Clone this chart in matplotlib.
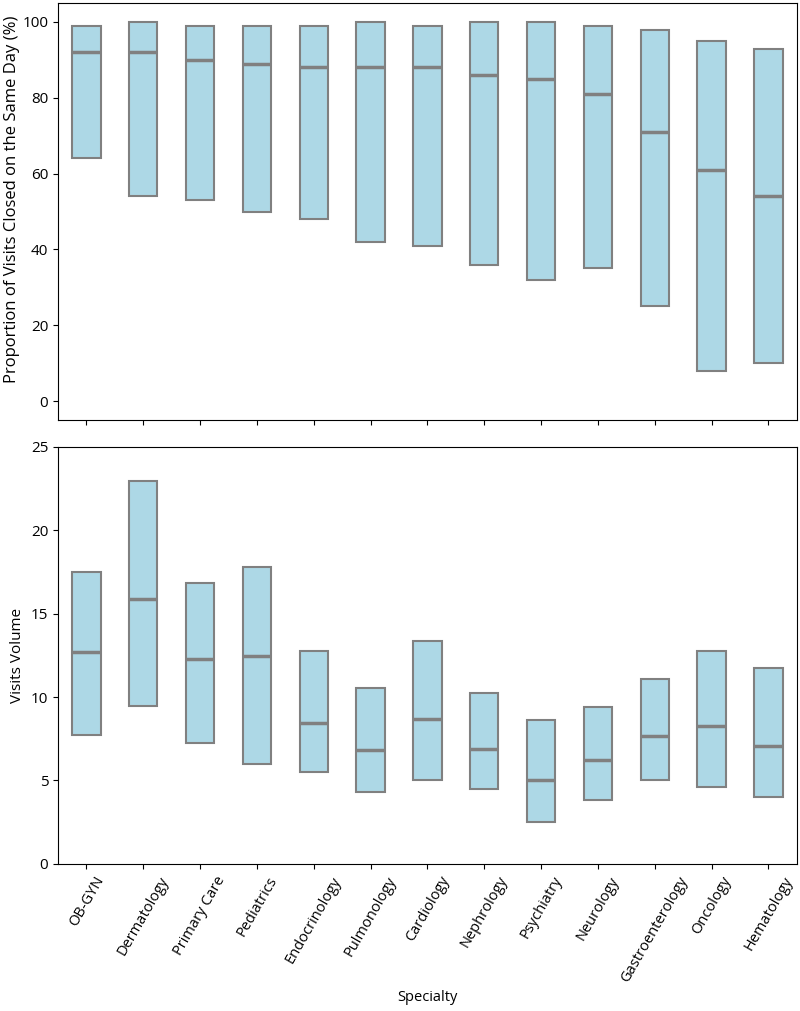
import matplotlib
matplotlib.use('Agg')
import matplotlib.pyplot as plt
import numpy as np

plt.rcParams['font.family'] = ['Open Sans', 'DejaVu Sans']

# Specialties (x axis)
specialties = ['OB-GYN', 'Dermatology', 'Primary Care', 'Pediatrics', 'Endocrinology',
               'Pulmonology', 'Cardiology', 'Nephrology', 'Psychiatry', 'Neurology',
               'Gastroenterology', 'Oncology', 'Hematology']

# Proportion of visits closed on the same day (%): low / median / high
closed_low = [64, 54, 53, 50, 48, 42, 41, 36, 32, 35, 25, 8, 10]
closed_med = [92, 92, 90, 89, 88, 88, 88, 86, 85, 81, 71, 61, 54]
closed_high = [99, 100, 99, 99, 99, 100, 99, 100, 100, 99, 98, 95, 93]

# Visits volume: low / median / high
volume_low = [7.74, 9.48, 7.22, 6.0, 5.5, 4.28, 5.0, 4.46, 2.54, 3.84, 5.0, 4.62, 3.98]
volume_med = [12.68, 15.88, 12.28, 12.44, 8.46, 6.8, 8.68, 6.9, 5.0, 6.24, 7.68, 8.24, 7.08]
volume_high = [17.48, 22.94, 16.84, 17.78, 12.74, 10.54, 13.36, 10.24, 8.62, 9.42, 11.06, 12.76, 11.76]

x = np.arange(len(specialties))


def draw_ranges(ax, low, med, high):
    low = np.array(low)
    high = np.array(high)
    ax.bar(x, high - low, bottom=low, width=0.5, color='lightblue',
           edgecolor='gray', linewidth=1.5)
    ax.hlines(med, x - 0.25, x + 0.25, color='gray', linewidth=2.5)


fig, (ax1, ax2) = plt.subplots(2, 1, figsize=(8, 10.11), dpi=100, sharex=True)
fig.subplots_adjust(left=0.0725, right=0.996, top=0.997, bottom=0.1455, hspace=0.064)

draw_ranges(ax1, closed_low, closed_med, closed_high)
ax1.set_ylim(-5, 105)
ax1.set_yticks([0, 20, 40, 60, 80, 100])
ax1.set_ylabel('Proportion of Visits Closed on the Same Day (%)', fontsize=12)
ax1.yaxis.set_label_coords(-0.052, 0.53)

draw_ranges(ax2, volume_low, volume_med, volume_high)
ax2.set_ylim(0, 25)
ax2.set_yticks([0, 5, 10, 15, 20, 25])
ax2.set_ylabel('Visits Volume', fontsize=11)

for ax in (ax1, ax2):
    ax.tick_params(labelsize=11)

ax2.set_xlim(-0.5, len(specialties) - 0.5)
ax2.set_xticks(x)
ax2.set_xticklabels(specialties, rotation=60, fontsize=10.5)
ax2.set_xlabel('Specialty', fontsize=10.5)

plt.savefig('out.png')
